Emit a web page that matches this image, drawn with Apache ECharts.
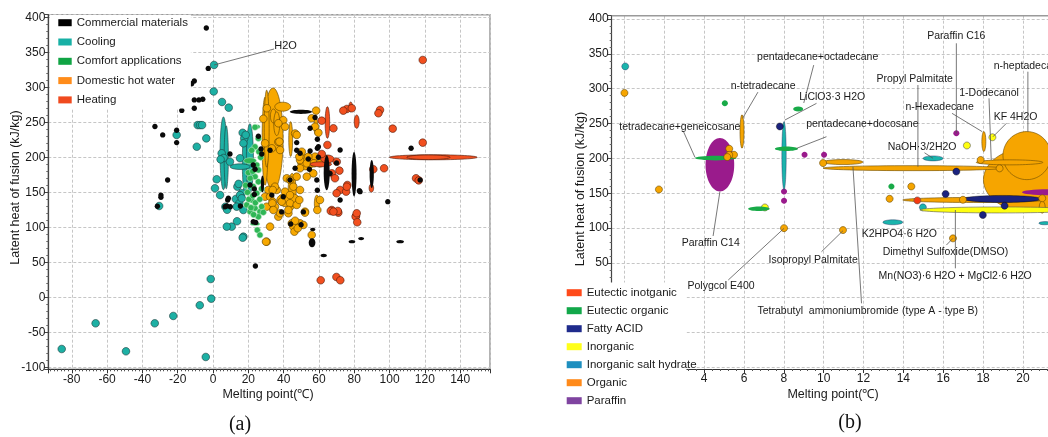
<!DOCTYPE html>
<html><head><meta charset="utf-8">
<script src="https://cdn.jsdelivr.net/npm/echarts@6/dist/echarts.min.js"></script>
<style>html,body{margin:0;padding:0;background:#fff}#c{width:1048px;height:437px}</style>
</head><body><div id="c"></div>
<script>
// ---------- DATA : [melting point, latent heat, melting half-range, heat half-range] ----------
// Panel (a)
var aCommercial = [[-3.8,384.7],[-2.7,327],[-14.6,310],[-12.1,305],[-10.6,309],[-15.7,288],[-10.6,282],[-8,282],[-5.8,283],[-10.6,270],[-17.7,267],[-32.9,244],[-28.5,232],[-20.6,238.6],[-20.6,221],[-25.7,167.6],[-29.5,146],[-29.5,143],[-31.5,130],[9.6,204.7],[23.4,154.7],[23.4,147],[8.3,139],[9.8,129.4],[25.7,230],[7.8,130.4],[15.5,130.4],[24.2,107],[24,44.7],
  [49.8,265,6.3,3],[28,162,0.9,12],[64.4,178,1.7,25],[79.9,176,1.4,32],[89.9,176,1.2,20],
  [57.8,257],[55,241.4],[59.1,225.7],[59.1,213],[55,209],[112.2,212.8],[117.3,167.6],[99,136.6],[82.9,152.3],[72,139],[59.1,153],[70,192],[66.3,177],[47.4,221],[47.4,210],[59.7,215],[27.2,212],[27.6,204.7],[32.3,210],[54,197.6],[59.7,200],[54.6,182.9],[58.8,167.6],[43.6,167.6],[46.5,184.3],[49.3,205.7],[72,210.4],[83.3,150.9],[22.8,189],[23.8,182.9],[21,160.4],[8.7,141.4],[6.8,129.4],[33.3,146],[39.8,143.7],[51.2,122],[38.9,122],[22.8,108],[44,104.7],[49.9,103.7],
  [56.5,97,1.5,1.6],[56.1,78,1.9,6.5],[62.7,59.6,1.8,2.5],[78.7,79.4,1.9,1.8],[83.9,83.8,1.7,1.8],[106,79.4,2.2,1.8]];
var aCooling = [[5.9,205.7,1.9,52],[7.5,200,1.2,45],[18.1,193,1.5,45],[20.9,198,2,50],[15.3,186.6,5.7,4],
  [0.6,331.9],[0.4,294],[5.1,279],[8.9,270.9],[-20.6,231.9],[-9.2,215.1],[-3.8,227],[-8.7,246],[-7.4,246],[-6.2,246],[2.1,168.6],[4.9,205.7],[6,199],[4.3,197],[9.6,193.7],[16.8,235],[17.7,227],[17.2,220],[18.5,232],[15.3,198.6],[13.8,158],[14.5,162],[16.3,148.6],[12.9,140.4],[14.9,134.3],[17.2,124.7],[7,129.4],[8,125],[1.1,155.7],[4,146],[15.3,146],[16.3,141.4],[13.4,129.4],[10.6,100.9],[7.8,100.9],[17.2,86.6],[13.6,108.6],[16.8,85.1],[-1.3,26.1],[-1,-2],[-85.7,-73.9],[-66.5,-37.2],[-49.3,-77.2],[-33,-37.2],[-22.5,-26.7],[-7.5,-11.4],[-4.1,-85.3],[-30.5,130.4]];
var aComfort = [[25.2,243.7,1.5,2.8],[21,195,3.6,4.3],[23.8,104.7,2.8,2.5],
  [23.8,242.9],[25.7,227],[23.8,215],[21.9,210],[24.8,189],[25.7,181.9],[23.8,172.3],[25.7,165],[22.8,158],[24.8,148.6],[21.9,139],[19.1,131.9],[23.8,127.1],[26.6,122.3],[21,122.3],[27.6,129.4],[25.7,115],[25.1,96],[26.6,89],[28.5,121.4],[19.5,150],[21,170],[20,178],[27,200],[26,208],[22.5,180],[24,135],[20.3,140],[22.5,145],[26.5,140],[27.5,155],[18.5,160],[21.5,128],[23,118]];
var aHotWater = [[34,226,5.7,73],[29.5,223,1.7,63],[30.4,241,1.4,55],[39.5,272.3,4.5,6.4],[44,226,1.1,25],[34.2,259,1.7,10],[36.1,248,1.7,17],[58.3,244,1.1,12],[52.7,193,4.8,11],[44.8,151,2.3,26],[42.7,139,6.6,10],[33.3,131.9,1.4,10],[58.8,134,1.4,12],[34.2,130.4,1.4,9.5],
  [39.8,253],[40.8,243.7],[46.5,234],[57.8,243.7],[37,222],[38,210.4],[29.5,220],[33.3,212.8],[50.3,208],[49.3,196],[53.1,191.4],[57.8,200.9],[49.3,184.3],[56.8,177],[47.4,172.3],[41.8,170],[45.5,158],[40.8,150.9],[49.3,153.3],[31.3,153.3],[36.1,153.3],[30.4,129.4],[29.5,143.7],[38.9,136.6],[43.6,134.3],[47.4,131.9],[52.1,122.3],[42.7,120],[37,115.1],[30.4,79.4],[49.3,105.7],[47.4,100.9],[51.2,103.3],[44.6,105.7],[32.3,100.9],[58.4,266.6],[55.9,255.7],[59.7,235.1],[37,248.6],[37.6,222.3],[47.4,231.9],[48.9,200.9],[54,200.9],[57.2,191.4],[60.6,191.4],[53.1,172.3],[43.6,167.6],[43.6,146],[48.9,139],[35.1,158],[33.8,153.3],[32.3,143.7],[33.8,136.6],[35.1,129.4],[38,120],[42.7,124.7],[60.6,139],[33.6,134.3],[34.2,124.7],[45.5,100.9],[46.1,93.7],[48,98.6],[46.5,109.4],[52.1,120.9],[55.9,89],[30,79.4],[59.1,124.7],[28.5,255],[30.5,270]];
var aHeating = [[124.8,200,24.9,3.6],[122,200,12.3,3.3],[78,272,1.1,7],[81.4,250.9,1.4,9.5],[64.8,249.7,1.3,22.6],[61.1,190,6.1,3.6],[64.8,197.6,3.8,5.7],[89.7,156,1.3,6],
  [118.8,339],[118.8,220.9],[115,170],[116.5,167],[101.8,240.9],[94.6,267.6],[93.7,262.9],[75.8,269],[73.8,266.6],[61.6,252.3],[68.2,241.4],[64.8,217.6],[61.6,204.7],[70.1,193.7],[67.3,177.1],[71.6,180.9],[69.1,170],[72,153.3],[76.1,160.4],[75.4,150.9],[70,148.6],[90.8,182.9],[96.9,184.3],[67.3,124.7],[71,120.9],[81,116.1],[66.7,123.3],[70.7,123.3],[80.8,115.1],[81.4,120],[81.7,107.1],[61,24.3],[69.9,29],[72.1,24.3],[78.6,270],[75.8,158],[68.2,122.3]];
var aNotes = ['H2O'];
var aNotePos = [[41.1,359.4,34.6,354.7,0.6,331.9]]; // text x,y, line from x,y, line to x,y

// Panel (b)
var bOrganicRanges = [[20.33,169.3,2.31,46],[20.2,204,1.2,34.5],[5.9,238.6,0.1,24],[10.97,194.7,1.0,3.6],[14.48,186,4.51,3.6],[18.04,224.2,0.1,14.3],[19.33,194.3,1.67,3.6],[17.53,140.3,3.56,3.6],[20.97,130,0.15,8.6]];
var bOrganicPoints = [[0,294],[1.73,155.4],[5.26,213.8],[5.5,205.2],[5.26,205],[5.16,201.9],[8.01,99.9],[9.97,193.3],[17.88,197.7],[18.83,185.7],[13.31,142],[16.99,140.6],[20.97,142.7],[14.4,159.7],[10.97,97.1],[16.49,85.2]];
var bParaffin = [[4.79,190.8,0.72,38.3],[21.3,151.3,1.35,4.3],[8.01,152.5],[8.01,139.2],[9.04,205.2],[10.02,205.2],[16.66,236]];
var bSaltHydrate = [[8.01,204,0.11,48.9],[15.49,200,0.5,3.6],[13.47,108.3,0.5,3.6],[21.1,107,0.3,1.5],[0.04,332],[14.98,129.7]];
var bInorganic = [[18.83,126,4.0,4.3],[7.05,129.6],[17.19,218.5],[18.47,230.3]];
var bFattyAcid = [[18.96,141.8,1.97,5],[7.8,245.8],[16.12,148.9],[19.08,132],[17.99,118.7],[16.66,181]];
var bEutecticOrganic = [[4.58,200.4,1.04,3.3],[6.75,127.7,0.54,3.3],[8.13,213.8,0.58,3.3],[8.72,270.9,0.25,3.6],[5.04,279],[13.4,159.7]];
var bEutecticInorganic = [[14.7,139.7]];
var bNotes = ['tetradecane+geneicosane','n-tetradecane','pentadecane+octadecane','LiClO3·3 H2O','pentadecane+docosane','Paraffin C16','Propyl Palmitate','n-Hexadecane','1-Dodecanol','KF 4H2O','n-heptadecane','NaOH·3/2H2O','K2HPO4·6 H2O','Paraffin C14','Polygcol E400','Isopropyl Palmitate','Dimethyl Sulfoxide(DMSO)','Mn(NO3)·6 H2O + MgCl2·6 H2O','Tetrabutyl  ammoniumbromide','(type A - type B)'];
var bNotePos = [[2.78,245.4,2.95,239.3,3.54,201.5],[6.96,303.9,6.7,295.1,5.93,257.5],[9.7,345.9,9.5,333.9,9.0,279.5],[10.43,288.5,9.64,279,8.05,255],[11.94,248.9,10.14,231.1,8.64,214.4],[16.66,375.6,16.66,365.2,16.66,236],[14.57,313.9,14.73,305.3,14.73,188],[15.82,273.3,16.44,264.7,17.96,238.3],[18.3,294.3,18.3,286.2,18.41,197.6],[19.63,259.8,19.17,250.3,18.5,231.1],[20.29,333,20.25,324.4,20.25,238.3],[14.94,216.7,15.06,208.1,15.49,200.1],[13.8,91,null,null,null,null],[4.33,78.1,4.45,88.6,4.79,152.1],[4.85,17.2,5.21,25.4,8.01,99.6],[9.47,54.1,9.89,66,10.97,96.2],[16.11,66,16.16,75.6,16.49,85.3],[16.6,31.6,16.61,42.2,16.61,125.9],[10.22,-19.1,11.9,-8,11.47,188],[15.84,-19.1,null,null,null,null]];

// ---------- BUILD ----------
var FONT = '"Liberation Sans", Arial, sans-serif';
function pad(arr){ return arr.map(function(d){ return [d[0], d[1], d[2]||0, d[3]||0]; }); }
function markRender(fill, stroke, minR, lw){
  return function(params, api){
    var c = api.coord([api.value(0), api.value(1)]);
    var hx = api.value(2), hy = api.value(3), rx, ry;
    if(!hx && !hy){ rx = ry = minR; }
    else { var s = api.size([hx, hy]); rx = Math.max(s[0], 1.6); ry = Math.max(s[1], 1.6); }
    return {type:'ellipse', shape:{cx:c[0], cy:c[1], rx:rx, ry:ry},
      style:{fill:fill, stroke:stroke || null, lineWidth: stroke ? lw : 0}};
  };
}
function markSeries(name, data, xi, legendColor, fill, stroke, minR, lw){
  return {type:'custom', name:name, xAxisIndex:xi, yAxisIndex:xi, data:pad(data),
    dimensions:['melt','heat','dm','dh'], encode:{x:'melt', y:'heat'},
    itemStyle:{color:legendColor}, renderItem:markRender(fill, stroke, minR, lw), silent:true};
}
function noteSeries(texts, pos, xi, fontSize){
  return {type:'custom', name:'notes'+xi, xAxisIndex:xi, yAxisIndex:xi, silent:true, z:10,
    data:pos.map(function(p){return [p[0],p[1]];}),
    renderItem:function(params, api){
      var p = pos[params.dataIndex];
      var t = api.coord([p[0], p[1]]);
      var children = [];
      if(p[2] !== null){
        var a = api.coord([p[2], p[3]]), b = api.coord([p[4], p[5]]);
        children.push({type:'line', shape:{x1:a[0],y1:a[1],x2:b[0],y2:b[1]}, style:{stroke:'#555', lineWidth:0.8}});
      }
      children.push({type:'text', x:t[0], y:t[1], style:{text:texts[params.dataIndex], fill:'#1a1a1a', font:fontSize+'px '+FONT, align:'center', verticalAlign:'middle'}});
      return {type:'group', children:children};
    }};
}
var split = {show:true, lineStyle:{color:'#c6c6c6', type:[3,2], width:1}};
var labelStyle = {color:'#1a1a1a', fontSize:12, fontFamily:FONT};

var option = {
  animation:false,
  backgroundColor:'#fff',
  grid:[
    {left:48.3, top:14.7, width:441.7, height:354.6, show:true, borderColor:'#9a9a9a', borderWidth:1.5, backgroundColor:'transparent'},
    {left:611.7, top:15.7, width:436.6, height:353.3, show:false}
  ],
  xAxis:[
    {type:'value', gridIndex:0, min:-93.3, max:156.9, splitNumber:12,
     axisLine:{onZero:false, lineStyle:{color:'#333', width:1.2}},
     axisTick:{show:true, length:4, lineStyle:{color:'#333'}},
     minorTick:{show:true, splitNumber:10, length:2, lineStyle:{color:'#555'}},
     axisLabel:Object.assign({margin:4, showMinLabel:false, showMaxLabel:false}, labelStyle),
     splitLine:split},
    {type:'value', gridIndex:1, min:-0.64, max:21.26, splitNumber:11,
     axisLine:{onZero:false, lineStyle:{color:'#333', width:1.2}},
     axisTick:{show:true, length:4, lineStyle:{color:'#333'}},
     minorTick:{show:true, splitNumber:5, length:2, lineStyle:{color:'#555'}},
     axisLabel:Object.assign({margin:4, showMinLabel:false, showMaxLabel:false,
       formatter:function(v){ return (v >= 4 && Math.abs(v-Math.round(v))<1e-6) ? String(Math.round(v)) : ''; }}, labelStyle),
     splitLine:split}
  ],
  yAxis:[
    {type:'value', gridIndex:0, min:-102.9, max:403.7, splitNumber:10,
     axisLine:{onZero:false, lineStyle:{color:'#444', width:1.2}},
     axisTick:{show:true, length:4, lineStyle:{color:'#444'}},
     minorTick:{show:true, splitNumber:5, length:2, lineStyle:{color:'#666'}},
     axisLabel:Object.assign({margin:3, showMinLabel:false, showMaxLabel:false}, labelStyle),
     splitLine:split},
    {type:'value', gridIndex:1, min:-102.3, max:404.8, splitNumber:10,
     axisLine:{onZero:false, lineStyle:{color:'#444', width:1.2}},
     axisTick:{show:true, length:4, lineStyle:{color:'#444'}},
     minorTick:{show:true, splitNumber:5, length:2, lineStyle:{color:'#666'}},
     axisLabel:Object.assign({margin:3, showMinLabel:false, showMaxLabel:false,
       formatter:function(v){ return (v >= 50 && v <= 400 && Math.abs(v % 50) < 1e-6) ? String(v) : ''; }}, labelStyle),
     splitLine:split}
  ],
  legend:[
    {orient:'vertical', left:50, top:15, z:60, icon:'rect', itemWidth:13.4, itemHeight:7, itemGap:6.3,
     backgroundColor:'#fff', padding:[1.2,3,2,8.3], selectedMode:false,
     textStyle:{fontSize:11.5, lineHeight:13, color:'#1a1a1a', fontFamily:FONT},
     data:['Commercial materials','Cooling','Comfort applications','Domestic hot water','Heating']},
    {orient:'vertical', left:566.7, top:286.2, z:60, icon:'rect', itemWidth:15, itemHeight:7, itemGap:5,
     padding:0, selectedMode:false,
     textStyle:{fontSize:11.5, lineHeight:13, color:'#1a1a1a', fontFamily:FONT},
     data:['Eutectic inotganic','Eutectic organic','Fatty ACID','Inorganic','Inorganic salt hydrate','Organic','Paraffin']}
  ],
  graphic:[
    {type:'line', z:40, shape:{x1:611.7, y1:15.7, x2:1048, y2:15.7}, style:{stroke:'#9a9a9a', lineWidth:1.5}},
    {type:'rect', z:50, shape:{x:590, y:282.5, width:96.5, height:105}, style:{fill:'#fff'}},
    {type:'text', z:100, x:16, y:187.5, rotation:Math.PI/2, style:{text:'Latent heat of fusion (kJ/kg)', font:'12.5px '+FONT, fill:'#1a1a1a', align:'center', verticalAlign:'middle'}},
    {type:'text', z:100, x:268, y:395, style:{text:'Melting point(℃)', font:'12.5px '+FONT, fill:'#1a1a1a', align:'center', verticalAlign:'middle'}},
    {type:'text', z:100, x:581, y:189, rotation:Math.PI/2, style:{text:'Latent heat of fusion (kJ/kg)', font:'12.5px '+FONT, fill:'#1a1a1a', align:'center', verticalAlign:'middle'}},
    {type:'text', z:100, x:833, y:395, style:{text:'Melting point(℃)', font:'12.5px '+FONT, fill:'#1a1a1a', align:'center', verticalAlign:'middle'}},
    {type:'text', z:100, x:240, y:425, style:{text:'(a)', font:'20px "Liberation Serif", "Times New Roman", serif', fill:'#111', align:'center', verticalAlign:'middle'}},
    {type:'text', z:100, x:850, y:423, style:{text:'(b)', font:'20px "Liberation Serif", "Times New Roman", serif', fill:'#111', align:'center', verticalAlign:'middle'}}
  ],
  series:[
    markSeries('Domestic hot water', aHotWater, 0, '#ff8c1a', '#f7a800', '#5a4000', 3.8, 0.6),
    markSeries('Cooling', aCooling, 0, '#18b0a5', '#1db0a4', '#1d3b3a', 3.8, 0.6),
    markSeries('Comfort applications', aComfort, 0, '#10a444', '#2fb656', '#b8e8c4', 3.1, 0.6),
    markSeries('Heating', aHeating, 0, '#f04a1e', '#f2501f', '#4a1a0a', 3.8, 0.6),
    markSeries('Commercial materials', aCommercial, 0, '#000000', '#0a0a0a', null, 2.7, 0),
    noteSeries(aNotes, aNotePos, 0, 11),
    markSeries('Organic', bOrganicRanges, 1, '#ff8a1a', '#f6a500', '#6a4a00', 3.5, 0.6),
    markSeries('Paraffin', bParaffin, 1, '#7f44a0', '#9a1b8c', null, 3, 0),
    markSeries('Inorganic salt hydrate', bSaltHydrate, 1, '#1e8fbf', '#1ab4ac', '#225', 3.5, 0.4),
    markSeries('Inorganic', bInorganic, 1, '#ffff1a', '#ffff10', '#555', 3.5, 0.6),
    markSeries('Fatty ACID', bFattyAcid, 1, '#1f2b8c', '#1b237e', '#000', 3.5, 0.4),
    markSeries('Eutectic organic', bEutecticOrganic, 1, '#12a84a', '#18aa48', null, 3, 0),
    markSeries('Eutectic inotganic', bEutecticInorganic, 1, '#ff4a1a', '#f53a10', '#555', 3.5, 0.6),
    markSeries('Organic', bOrganicPoints, 1, '#ff8a1a', '#f6a500', '#6a4a00', 3.5, 0.6),
    noteSeries(bNotes, bNotePos, 1, 10.5)
  ]
};
var chart = echarts.init(document.getElementById('c'), null, {renderer:'canvas', width:1048, height:437});
chart.setOption(option);
</script></body></html>
